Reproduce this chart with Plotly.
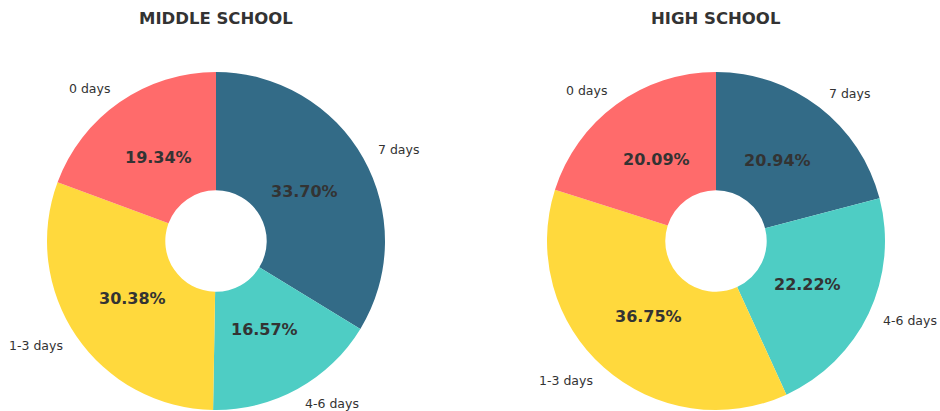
import math
import plotly.graph_objects as go

categories = ["7 days", "4-6 days", "1-3 days", "0 days"]
middle_values = [33.70, 16.57, 30.38, 19.34]
high_values = [20.94, 22.22, 36.75, 20.09]
titles = ["MIDDLE SCHOOL", "HIGH SCHOOL"]
colors = ["#336B87", "#4ECDC4", "#FFD93D", "#FF6B6B"]

W, H = 940, 411
R = 169
centers = [(216, 241), (716, 241)]
FONT = "DejaVu Sans"
TXT = "#333333"

fig = go.Figure()
annotations = []
for (cx, cy), vals, title in zip(centers, [middle_values, high_values], titles):
    xd = [(cx - R) / W, (cx + R) / W]
    yd = [(H - cy - R) / H, (H - cy + R) / H]
    fig.add_trace(go.Pie(
        labels=categories, values=vals, sort=False, direction="clockwise",
        rotation=0, hole=0.3, textinfo="none", hoverinfo="label+percent",
        marker=dict(colors=colors, line=dict(width=0)),
        domain=dict(x=xd, y=yd), showlegend=False,
    ))
    total = sum(vals)
    cum = 0.0
    for lab, v in zip(categories, vals):
        mid = (cum + v / 2) / total * 2 * math.pi
        cum += v
        sx, sy = math.sin(mid), math.cos(mid)
        lx = cx + 1.1 * R * sx - (2.5 if sx > 0 else -2.5)
        ly = cy - 1.1 * R * sy
        annotations.append(dict(
            x=lx / W, y=1 - ly / H, xref="paper", yref="paper",
            text=lab, showarrow=False,
            xanchor="left" if sx > 0 else "right", yanchor="middle",
            font=dict(family=FONT, size=12.5, color=TXT),
        ))
        px = cx + 0.6 * R * sx
        py = cy - 0.6 * R * sy
        annotations.append(dict(
            x=px / W, y=1 - py / H, xref="paper", yref="paper",
            text="<b>%.2f%%</b>" % (v / total * 100), showarrow=False,
            xanchor="center", yanchor="middle",
            font=dict(family=FONT, size=16, color=TXT),
        ))
    annotations.append(dict(
        x=cx / W, y=1 - 18.5 / H, xref="paper", yref="paper",
        text="<b>%s</b>" % title, showarrow=False,
        xanchor="center", yanchor="middle",
        font=dict(family=FONT, size=16.5, color=TXT),
    ))

fig.update_layout(
    width=W, height=H, margin=dict(l=0, r=0, t=0, b=0),
    paper_bgcolor="white", plot_bgcolor="white",
    annotations=annotations,
)
fig.write_html(
    "out.html",
    config={"displayModeBar": False},
    post_script="document.body.style.margin='0';document.body.style.overflow='hidden';",
)
